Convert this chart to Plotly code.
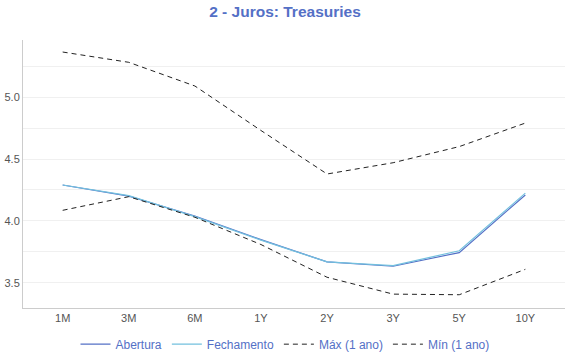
import plotly.graph_objects as go

categories = ["1M", "3M", "6M", "1Y", "2Y", "3Y", "5Y", "10Y"]
abertura = [4.29, 4.20, 4.04, 3.85, 3.67, 3.635, 3.745, 4.21]
fechamento = [4.29, 4.205, 4.035, 3.845, 3.67, 3.64, 3.76, 4.225]
maximo = [5.363, 5.28, 5.089, 4.73, 4.379, 4.47, 4.60, 4.79]
minimo = [4.086, 4.196, 4.03, 3.81, 3.546, 3.41, 3.405, 3.61]

idx = list(range(len(categories)))

fig = go.Figure()
fig.add_trace(go.Scatter(x=idx, y=abertura, name="Abertura", mode="lines",
                         line=dict(color="#5470c6", width=1.2)))
fig.add_trace(go.Scatter(x=idx, y=fechamento, name="Fechamento", mode="lines",
                         line=dict(color="#73c0de", width=1.2)))
fig.add_trace(go.Scatter(x=idx, y=maximo, name="Máx (1 ano)", mode="lines",
                         line=dict(color="#222222", width=1, dash="5px,4px")))
fig.add_trace(go.Scatter(x=idx, y=minimo, name="Mín (1 ano)", mode="lines",
                         line=dict(color="#222222", width=1, dash="5px,4px")))

fig.update_layout(
    width=570, height=360,
    paper_bgcolor="white", plot_bgcolor="white",
    margin=dict(l=23, r=5, t=40, b=52),
    font=dict(family="Liberation Sans, Arial, sans-serif", size=11, color="#555"),
    title=dict(text="<b>2 - Juros: Treasuries</b>", x=0.5, xanchor="center",
               xref="container", yref="container",
               y=0.967, yanchor="middle",
               font=dict(size=15.5, color="#5470c6")),
    showlegend=True,
    legend=dict(orientation="h", x=0.5, xanchor="center", xref="container",
                yref="container", y=0.044, yanchor="middle",
                font=dict(size=12, color="#5470c6"), itemwidth=30,
                traceorder="normal"),
    xaxis=dict(tickmode="array", tickvals=idx, ticktext=categories,
               range=[-0.6, 7.6], showgrid=False, zeroline=False, automargin=False,
               showline=True, linecolor="#cccccc", linewidth=1, ticks="",
               tickfont=dict(size=11, color="#555")),
    yaxis=dict(range=[3.298, 5.46], dtick=0.5, tick0=3.5, tickformat=".1f",
               showgrid=True, gridcolor="#f0f0f0", zeroline=False, automargin=False,
               showline=True, linecolor="#cccccc", linewidth=1, ticks="",
               tickfont=dict(size=11, color="#555"),
               minor=dict(dtick=0.25, tick0=3.25, showgrid=True, gridcolor="#f0f0f0")),
)

fig.write_html("out.html", config={"displayModeBar": False},
               post_script="document.body.style.margin='0';document.body.style.overflow='hidden';")
